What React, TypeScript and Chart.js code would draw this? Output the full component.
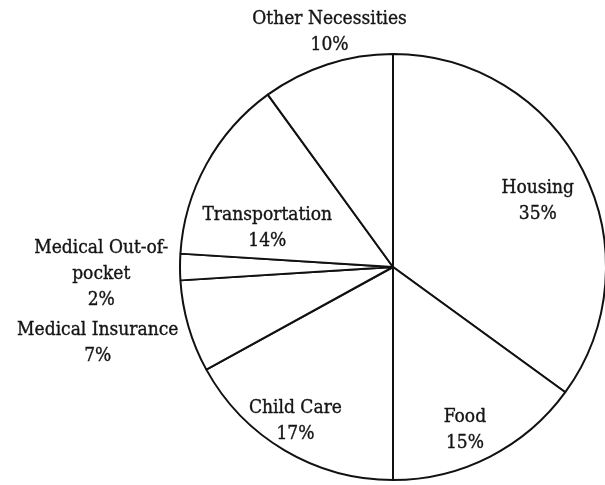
import React, { useEffect, useRef } from "react";
import { Chart, registerables } from "chart.js";

Chart.register(...registerables);

const categories = [
  "Housing",
  "Food",
  "Child Care",
  "Medical Insurance",
  "Medical Out-of-pocket",
  "Transportation",
  "Other Necessities",
];
const shares = [35, 15, 17, 7, 2, 14, 10];
const labelLines = [
  ["Housing", "35%"],
  ["Food", "15%"],
  ["Child Care", "17%"],
  ["Medical Insurance", "7%"],
  ["Medical Out-of-", "pocket", "2%"],
  ["Transportation", "14%"],
  ["Other Necessities", "10%"],
];
// label placement: radius factor relative to outer radius, angle shift (deg) from slice middle
const labelPlacement = [
  { r: 0.75, da: 2 },
  { r: 0.83, da: 3 },
  { r: 0.85, da: 2 },
  { r: 1.43, da: 2 },
  { r: 1.37, da: -1 },
  { r: 0.62, da: -11 },
  { r: 1.15, da: 3 },
];

const FONT = "19px 'DejaVu Serif Condensed', 'DejaVu Serif', serif";
const LINE_H = 26;
const Y_SHIFT = 1.5;

const labelPlugin = {
  id: "sliceLabels",
  afterDatasetsDraw(chart: any) {
    const ctx = chart.ctx;
    const meta = chart.getDatasetMeta(0);
    ctx.save();
    ctx.font = FONT;
    ctx.fillStyle = "#141414";
    ctx.strokeStyle = "#141414";
    ctx.lineWidth = 0.35;
    ctx.textAlign = "center";
    ctx.textBaseline = "middle";
    meta.data.forEach((arc: any, i: number) => {
      const p = arc.getProps(["x", "y", "startAngle", "endAngle", "outerRadius"], true);
      const place = labelPlacement[i];
      const mid = (p.startAngle + p.endAngle) / 2 + (place.da * Math.PI) / 180;
      const cx = p.x + Math.cos(mid) * p.outerRadius * place.r;
      const cy = p.y + Math.sin(mid) * p.outerRadius * place.r + Y_SHIFT;
      const lines = labelLines[i];
      const y0 = cy - ((lines.length - 1) * LINE_H) / 2;
      lines.forEach((t, j) => {
        ctx.fillText(t, cx, y0 + j * LINE_H);
        ctx.strokeText(t, cx, y0 + j * LINE_H);
      });
    });
    ctx.restore();
  },
};

export default function App() {
  const ref = useRef<HTMLCanvasElement>(null);
  useEffect(() => {
    if (!ref.current) return;
    const chart = new Chart(ref.current, {
      type: "pie",
      data: {
        labels: categories,
        datasets: [
          {
            data: shares,
            backgroundColor: "#ffffff",
            borderColor: "#111111",
            borderWidth: 2,
            hoverBorderWidth: 2,
            hoverOffset: 0,
            hoverBackgroundColor: "#ffffff",
          },
        ],
      },
      options: {
        responsive: false,
        animation: false,
        devicePixelRatio: 1,
        layout: { padding: { left: 179, right: 13, top: 53, bottom: 4 } },
        plugins: {
          legend: { display: false },
          tooltip: { enabled: false },
        },
        events: [],
      },
      plugins: [labelPlugin],
    });
    return () => chart.destroy();
  }, []);
  return (
    <div
      style={{
        position: "absolute",
        left: 0,
        top: 0,
        width: 605,
        height: 485,
        overflow: "hidden",
        background: "#fff",
      }}
    >
      <canvas ref={ref} width={620} height={485} style={{ width: 620, height: 485 }} />
    </div>
  );
}
